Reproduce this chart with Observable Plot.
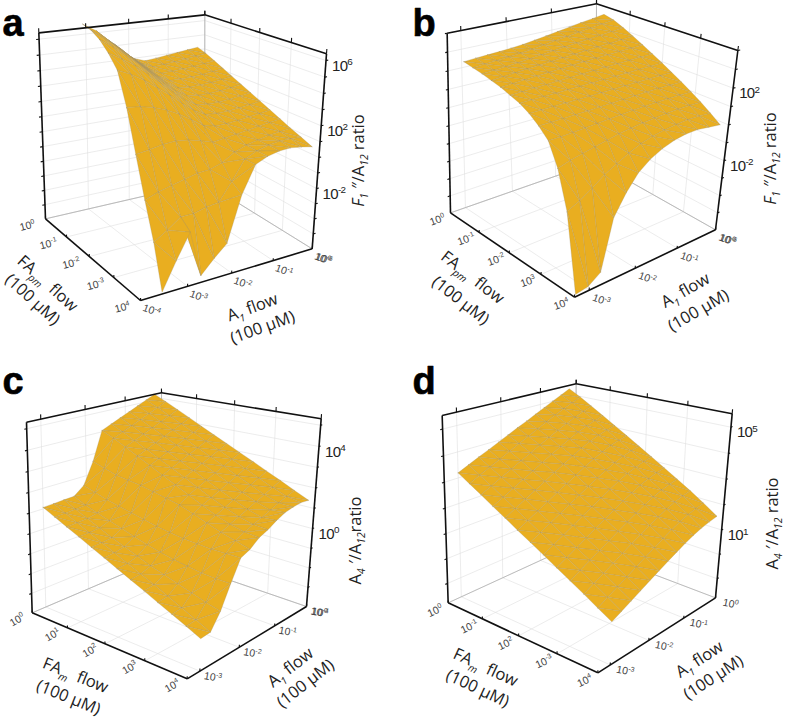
<!DOCTYPE html>
<html><head><meta charset="utf-8">
<script src="https://cdn.jsdelivr.net/npm/d3@7"></script>
<script src="https://cdn.jsdelivr.net/npm/@observablehq/plot@0.6"></script>
<style>html,body{margin:0;padding:0;background:#fff}.ztext{letter-spacing:-0.7px}</style>
</head><body><div id="chart"></div>
<script>
// log10 ratio: rows FA high -> low, columns A1 low -> high
const zA = [
[null,null,null,null,null,null,3.87,3.60,3.68,3.78,3.88,3.98,4.07],
[null,null,null,null,5.05,4.36,3.75,3.42,3.48,3.56,3.65,3.75,3.85],
[null,null,6.35,5.66,4.90,4.20,3.60,3.22,3.25,3.30,3.37,3.46,3.55],
[7.50,6.97,6.20,5.50,4.75,4.05,3.40,2.98,2.97,3.00,3.06,3.15,3.25],
[7.35,6.70,6.00,5.30,4.55,3.85,3.20,2.75,2.68,2.70,2.76,2.85,2.95],
[7.00,6.40,5.75,5.05,4.30,3.60,2.95,2.50,2.40,2.40,2.46,2.55,2.65],
[6.40,5.90,5.35,4.70,4.00,3.30,2.65,2.20,2.10,2.10,2.16,2.25,2.35],
[5.60,5.20,4.70,4.10,3.50,2.85,2.25,1.85,1.78,1.80,1.87,1.95,2.05],
[3.60,3.50,3.30,3.00,2.60,2.10,1.60,1.40,1.42,1.48,1.57,1.65,1.75],
[1.07,1.20,1.35,1.40,1.30,1.10,0.85,0.95,1.05,1.15,1.27,1.36,1.45],
[-1.30,-1.00,-0.80,-0.60,-0.40,-0.35,-0.10,0.40,0.68,0.85,1.00,1.08,1.15],
[-3.40,-2.90,-2.30,-2.30,-2.10,-2.00,-0.90,0.30,0.65,0.85,0.95,0.95,0.88],
[-5.90,-4.30,-2.80,-5.60,-4.80,-4.10,-1.35,0.32,0.65,0.82,0.85,0.75,0.60]];
const zB = [
[2.75,2.80,2.84,2.88,2.93,3.00,3.10,3.21,3.33,3.45,3.57,3.68,3.80],
[2.62,2.68,2.73,2.78,2.85,2.93,3.03,3.14,3.24,3.35,3.45,3.55,3.65],
[2.50,2.55,2.60,2.66,2.74,2.82,2.90,2.98,3.06,3.14,3.22,3.30,3.38],
[2.35,2.41,2.47,2.53,2.59,2.65,2.71,2.77,2.83,2.89,2.95,3.02,3.08],
[2.20,2.25,2.30,2.35,2.40,2.45,2.50,2.55,2.60,2.64,2.68,2.73,2.77],
[2.00,2.03,2.07,2.10,2.14,2.18,2.22,2.26,2.30,2.34,2.38,2.42,2.45],
[1.80,1.82,1.84,1.86,1.89,1.91,1.94,1.97,2.00,2.03,2.07,2.10,2.13],
[1.50,1.52,1.54,1.56,1.58,1.60,1.63,1.66,1.69,1.72,1.75,1.78,1.80],
[1.10,1.12,1.14,1.17,1.20,1.24,1.28,1.32,1.36,1.40,1.44,1.46,1.47],
[0.60,0.62,0.66,0.72,0.78,0.84,0.90,0.96,1.01,1.05,1.09,1.12,1.13],
[-0.50,-0.30,-0.15,0.00,0.15,0.30,0.42,0.52,0.60,0.68,0.74,0.78,0.78],
[-2.30,-2.00,-1.60,-1.15,-0.80,-0.45,-0.15,0.05,0.20,0.32,0.40,0.42,0.40],
[-5.90,-5.80,-5.40,-3.00,-2.00,-1.20,-0.70,-0.35,-0.10,0.05,0.10,0.05,0.00]];
const zC = [
[0.93,0.95,0.98,1.00,1.40,2.50,4.00,4.22,4.44,4.65,4.87,5.09,5.30],
[0.63,0.65,0.68,0.72,1.20,2.30,3.72,3.93,4.14,4.35,4.56,4.78,5.00],
[0.34,0.36,0.40,0.50,1.00,2.10,3.40,3.61,3.82,4.03,4.24,4.45,4.67],
[0.05,0.07,0.12,0.30,0.85,2.00,3.08,3.29,3.50,3.71,3.92,4.13,4.34],
[-0.25,-0.22,-0.16,0.10,0.70,1.90,2.75,2.96,3.17,3.38,3.59,3.80,4.00],
[-0.54,-0.50,-0.40,-0.10,0.55,1.75,2.42,2.63,2.84,3.05,3.26,3.47,3.67],
[-0.84,-0.80,-0.65,-0.30,0.40,1.60,2.10,2.31,2.52,2.73,2.94,3.15,3.35],
[-1.13,-1.08,-0.90,-0.45,0.30,1.45,1.77,1.98,2.19,2.40,2.61,2.82,3.02],
[-1.42,-1.35,-1.10,-0.60,0.20,1.20,1.44,1.65,1.86,2.07,2.28,2.49,2.70],
[-1.72,-1.65,-1.30,-0.70,0.15,0.95,1.14,1.35,1.56,1.76,1.97,2.17,2.37],
[-2.01,-1.95,-1.50,-0.80,0.10,0.70,0.90,1.08,1.27,1.47,1.66,1.86,2.05],
[-2.30,-2.25,-1.70,-0.85,0.10,0.50,0.72,0.90,1.05,1.24,1.42,1.58,1.72],
[-2.60,-2.55,-1.86,-0.85,0.10,0.30,0.65,0.84,1.10,1.30,1.40,1.45,1.40]];
const zD = [
[3.10,3.29,3.48,3.66,3.85,4.04,4.23,4.41,4.60,4.79,4.98,5.16,5.35],
[2.82,3.02,3.22,3.41,3.61,3.81,4.00,4.20,4.39,4.58,4.76,4.92,5.08],
[2.54,2.74,2.95,3.15,3.36,3.56,3.76,3.96,4.15,4.33,4.50,4.65,4.78],
[2.25,2.46,2.67,2.88,3.09,3.30,3.51,3.71,3.91,4.09,4.24,4.37,4.47],
[1.97,2.18,2.40,2.61,2.82,3.04,3.25,3.46,3.66,3.83,3.97,4.08,4.16],
[1.68,1.89,2.10,2.31,2.53,2.74,2.95,3.16,3.35,3.52,3.67,3.77,3.85],
[1.40,1.61,1.82,2.02,2.23,2.44,2.65,2.85,3.04,3.21,3.35,3.46,3.53],
[1.12,1.33,1.53,1.73,1.94,2.15,2.35,2.55,2.74,2.91,3.04,3.15,3.22],
[0.83,1.03,1.23,1.43,1.64,1.84,2.04,2.24,2.42,2.59,2.72,2.83,2.90],
[0.55,0.75,0.95,1.14,1.34,1.54,1.74,1.93,2.11,2.28,2.41,2.51,2.58],
[0.27,0.47,0.66,0.85,1.05,1.25,1.43,1.62,1.80,1.96,2.09,2.19,2.26],
[-0.02,0.17,0.36,0.54,0.74,0.93,1.11,1.30,1.47,1.63,1.76,1.85,1.92],
[-0.30,-0.12,0.06,0.24,0.43,0.61,0.79,0.96,1.13,1.28,1.40,1.49,1.56]];

const faTicks = [0,-1,-2,-3,-4];
const faLabelsA = ["10^{0}","10^{-1}","10^{-2}","10^{-3}","10^{4}"];
const faLabelsB = ["10^{0}","10^{-1}","10^{-2}","10^{3}","10^{4}"];
const faLabelsC = ["10^{0}","10^{1}","10^{2}","10^{3}","10^{4}"];
const faLabelsD = ["10^{0}","10^{-1}","10^{2}","10^{-3}","10^{4}"];
const a1TicksA = [-4,-3,-2,-1,0];
const a1TicksB = [-3,-2,-1,0];
const zTicksA = [-6,-5,-4,-3,-2,-1,0,1,2,3,4,5,6];
const zTicksB = [-6,-5,-4,-3,-2,-1,0,1,2,3,4];
const zTicksC = [-4,-3,-2,-1,0,1,2,3,4,5];
const zTicksD = [-1,0,1,2,3,4,5];
const zLabelA = [6,2,-2], zLabelB = [2,-2], zLabelC = [4,0], zLabelD = [5,1];

const panels = [
 {name:"a", z:zA, ox:0, oy:0, faRange:[0,-4], a1Range:[-3.55,-0.2], a1Axis:-4, zRange:[-6,6.4],
  L:[135,655],F:[420,900],R:[935,745],B:[612,545],TL:[115,97],TF:[430,255],TR:[978,160],TB:[613,43],
  faLabels:faLabelsA, a1Ticks:a1TicksA, zTicks:zTicksA, zLabels:zLabelA,
  faOff:[-18,7,-15], a1Off:[11,10,20], corner:"10^{-6}",
  titles:[["FA~{pm}  flow",47,283,42],["(100 µM)",32,299,42],["A~{1} flow",252,307,-20],["(100 µM)",262,327,-20],["*F*~{1} ″/A~{12} ratio",358,160,-90]],
  letter:[2,35]},
 {name:"b", z:zB, ox:400, oy:0, faRange:[-0.5,-4], a1Range:[-3.28,-0.2], a1Axis:-3.3, zRange:[-6,4],
  L:[150,637],F:[522,890],R:[945,688],B:[585,485],TL:[140,98],TF:[535,245],TR:[1012,150],TB:[588,10],
  faLabels:faLabelsB, a1Ticks:a1TicksB, zTicks:zTicksB, zLabels:zLabelB,
  faOff:[-13,7,-20], a1Off:[12,10,20], corner:"10^{-6}",
  titles:[["FA~{pm}  flow",472,277,38],["(100 µM)",460,300,38],["A~{1} flow",685,290,-30],["(100 µM)",698,310,-30],["*F*~{1} ″/A~{12} ratio",770,158,-90]],
  letter:[412,35]},
 {name:"c", z:zC, ox:0, oy:360, faRange:[0,-4], a1Range:[-3,-0.2], a1Axis:-3.3, zRange:[-4,5.3],
  L:[95,757],F:[560,955],R:[918,738],B:[486,590],TL:[78,185],TF:[572,300],TR:[962,175],TB:[483,97],
  faLabels:faLabelsC, a1Ticks:a1TicksB, zTicks:zTicksC, zLabels:zLabelC,
  faOff:[-15,7,-30], a1Off:[13,6,10], corner:"10^{-4}",
  titles:[["FA~{m}  flow",75,675,22],["(100 µM)",68,697,22],["A~{1} flow",290,667,-38],["(100 µM)",305,683,-38],["A~{4} ′/A~{12}ratio",355,540,-90]],
  letter:[2,393]},
 {name:"d", z:zD, ox:400, oy:360, faRange:[0,-4], a1Range:[-3,-0.2], a1Axis:-3.3, zRange:[-1.8,5.5],
  L:[143,727],F:[592,937],R:[945,712],B:[524,552],TL:[125,165],TF:[610,300],TR:[995,160],TB:[527,70],
  faLabels:faLabelsD, a1Ticks:a1TicksB, zTicks:zTicksD, zLabels:zLabelD,
  faOff:[-13,8,-25], a1Off:[15,6,12], corner:null,
  titles:[["FA~{m}  flow",485,667,25],["(100 µM)",477,688,25],["A~{1} flow",699,659,-33],["(100 µM)",713,677,-33],["A~{4} ′/A~{12} ratio",772,523,-90]],
  letter:[412,393]}
];

function quadMap(p0,p1,p2,p3){
  const [x0,y0]=p0,[x1,y1]=p1,[x2,y2]=p2,[x3,y3]=p3;
  const dx1=x1-x2,dx2=x3-x2,sx=x0-x1+x2-x3,dy1=y1-y2,dy2=y3-y2,sy=y0-y1+y2-y3;
  const den=dx1*dy2-dx2*dy1;
  const g=(sx*dy2-dx2*sy)/den,h=(dx1*sy-sx*dy1)/den;
  const a=x1-x0+g*x1,b=x3-x0+h*x3,d=y1-y0+g*y1,e=y3-y0+h*y3;
  return (u,v)=>{const w=g*u+h*v+1;return [(a*u+b*v+x0)/w,(d*u+e*v+y0)/w];};
}
function projector(p){
  const base=quadMap(p.L,p.F,p.R,p.B), top=quadMap(p.TL,p.TF,p.TR,p.TB);
  return (u,v,w)=>{
    const b=base(u,v),t=top(u,v);
    return [(b[0]+(t[0]-b[0])*w)/3+p.ox,(b[1]+(t[1]-b[1])*w)/3+p.oy];
  };
}
const tris=[],gridSeg=[],backSeg=[],axisSeg=[],tickSeg=[],labels=[],zText=[],titleText=[],letters=[];
let tid=0;
const PERSP=0.06;
for(const p of panels){
  const P=projector(p);
  const U=fa=>fa/-4, V=a=>(a-p.a1Axis)/(0-p.a1Axis), W=z=>(z-p.zRange[0])/(p.zRange[1]-p.zRange[0]);
  const Wt=z=>{const t=W(z);return t*(1-PERSP)/(1-PERSP*t);};
  const seg=(arr,a,b)=>arr.push({x1:a[0],y1:a[1],x2:b[0],y2:b[1]});
  for(const t of p.a1Ticks){ seg(gridSeg,P(0,V(t),0),P(0,V(t),1)); seg(gridSeg,P(0,V(t),0),P(1,V(t),0)); }
  for(const t of faTicks){ seg(gridSeg,P(U(t),1,0),P(U(t),1,1)); seg(gridSeg,P(U(t),0,0),P(U(t),1,0)); }
  for(const t of p.zTicks){ seg(gridSeg,P(0,0,Wt(t)),P(0,1,Wt(t))); seg(gridSeg,P(0,1,Wt(t)),P(1,1,Wt(t))); }
  seg(backSeg,P(0,0,0),P(0,1,0)); seg(backSeg,P(0,1,0),P(1,1,0)); seg(backSeg,P(0,1,0),P(0,1,1));
  seg(axisSeg,P(0,0,0),P(1,0,0)); seg(axisSeg,P(1,0,0),P(1,1,0));
  seg(axisSeg,P(0,0,0),P(0,0,1)); seg(axisSeg,P(1,1,0),P(1,1,1));
  seg(axisSeg,P(0,0,1),P(0,1,1)); seg(axisSeg,P(0,1,1),P(1,1,1));
  for(const t of p.zTicks){ if(t===p.zRange[0])continue;
    seg(tickSeg,P(0,0,Wt(t)),P(0,-0.015,Wt(t))); seg(tickSeg,P(1,1,Wt(t)),P(1,1.015,Wt(t))); }
  for(const t of faTicks){ seg(tickSeg,P(U(t),1,1),P(U(t),1,1.025)); seg(tickSeg,P(U(t),0,0),P(U(t),0,0.012));
    const q=P(U(t),0,0); labels.push({x:q[0]+p.faOff[0],y:q[1]+p.faOff[1],t:p.faLabels[faTicks.indexOf(t)],r:p.faOff[2]}); }
  for(const t of p.a1Ticks){ seg(tickSeg,P(0,V(t),1),P(0,V(t),1.025)); seg(tickSeg,P(1,V(t),0),P(1,V(t),0.012));
    const q=P(1,V(t),0); labels.push({x:q[0]+p.a1Off[0],y:q[1]+p.a1Off[1],t:"10^{"+t+"}",r:p.a1Off[2]}); }
  if(p.corner){const q=P(1,1,0); labels.push({x:q[0]+p.a1Off[0],y:q[1]+p.a1Off[1],t:p.corner,r:p.a1Off[2]});}
  for(const t of p.zLabels){const q=P(1,1,Wt(t)); zText.push({x:q[0],y:q[1],t:"10^{"+t+"}"});}
  for(const t of p.titles) titleText.push({t:t[0],x:t[1],y:t[2],r:t[3]});
  letters.push({t:p.name,x:p.letter[0],y:p.letter[1]});
  const n=p.z.length-1;
  const uAt=k=>U(p.faRange[0]+(p.faRange[1]-p.faRange[0])*k/n);
  const vAt=m=>V(p.a1Range[0]+(p.a1Range[1]-p.a1Range[0])*m/n);
  const node=(k,m)=>p.z[k][m]==null?null:P(uAt(k),vAt(m),W(p.z[k][m]));
  const cells=[];
  for(let k=0;k<n;k++)for(let m=0;m<n;m++)cells.push([k,m]);
  cells.sort((a,b)=>(a[0]-a[1])-(b[0]-b[1]));
  const emit=pts=>{const id=tid++;for(const q of [...pts,pts[0]])tris.push({id,x:q[0],y:q[1]});};
  for(const [k,m] of cells){
    const a=node(k,m),b=node(k,m+1),c=node(k+1,m+1),d=node(k+1,m);
    if(a&&b&&c&&d){emit([a,b,c]);emit([a,d,c]);}
    else{const s=[a,b,c,d].filter(Boolean); if(s.length===3)emit(s);}
  }
}
const FILL="#E9AE20";
const chart=Plot.plot({
  width:787,height:719,margin:0,
  x:{domain:[0,787],range:[0,787],axis:null},
  y:{domain:[0,719],range:[0,719],axis:null},
  style:{fontFamily:"'Liberation Sans',sans-serif",background:"#fff"},
  marks:[
    Plot.link(gridSeg,{x1:"x1",y1:"y1",x2:"x2",y2:"y2",stroke:"#dfdfdf",strokeWidth:0.6}),
    Plot.link(backSeg,{x1:"x1",y1:"y1",x2:"x2",y2:"y2",stroke:"#a8a8a8",strokeWidth:0.7}),
    Plot.line(tris,{x:"x",y:"y",z:"id",fill:FILL,stroke:"#a0936e",strokeWidth:0.45,strokeOpacity:0.62,strokeLinejoin:"round"}),
    Plot.link(axisSeg,{x1:"x1",y1:"y1",x2:"x2",y2:"y2",stroke:"#111",strokeWidth:1.6}),
    Plot.link(tickSeg,{x1:"x1",y1:"y1",x2:"x2",y2:"y2",stroke:"#111",strokeWidth:1.1}),
    Plot.text(labels,{x:"x",y:"y",text:"t",rotate:"r",fontSize:10.5,fill:"#444"}),
    Plot.text(zText,{x:"x",y:"y",text:"t",fontSize:15,fill:"#222",textAnchor:"start",dx:6,dy:5.5,className:"ztext"}),
    Plot.text(titleText,{x:"x",y:"y",text:"t",rotate:"r",fontSize:16.5,fill:"#222",fontFamily:"'Open Sans'"}),
    Plot.text(letters,{x:"x",y:"y",text:"t",fontSize:38,fontWeight:700,fill:"#000",stroke:"#000",strokeWidth:0.6,textAnchor:"start",lineAnchor:"bottom",fontFamily:"'Liberation Sans'"})
  ]
});
const NS="http://www.w3.org/2000/svg";
chart.querySelectorAll("text").forEach(t=>{
  const s=t.textContent;
  if(!/[\^~*]/.test(s))return;
  t.textContent="";
  const re=/\^\{([^}]*)\}|~\{([^}]*)\}|\*([^*]*)\*|([^\^~*]+)/g;
  let m,shift=0;
  const fs=parseFloat(t.closest("g").getAttribute("font-size"))||14;
  while((m=re.exec(s))){
    const sp=document.createElementNS(NS,"tspan");
    let target=0;
    if(m[1]!==undefined){sp.textContent=m[1];target=-0.38;sp.setAttribute("font-size","66%");}
    else if(m[2]!==undefined){sp.textContent=m[2];target=0.28;sp.setAttribute("font-size","62%");sp.setAttribute("font-style","italic");}
    else if(m[3]!==undefined){sp.textContent=m[3];sp.setAttribute("font-style","italic");}
    else sp.textContent=m[4];
    const dy=(target-shift)*fs;
    if(dy)sp.setAttribute("dy",dy);
    shift=target;
    t.appendChild(sp);
  }
});
document.getElementById("chart").appendChild(chart);
</script></body></html>
